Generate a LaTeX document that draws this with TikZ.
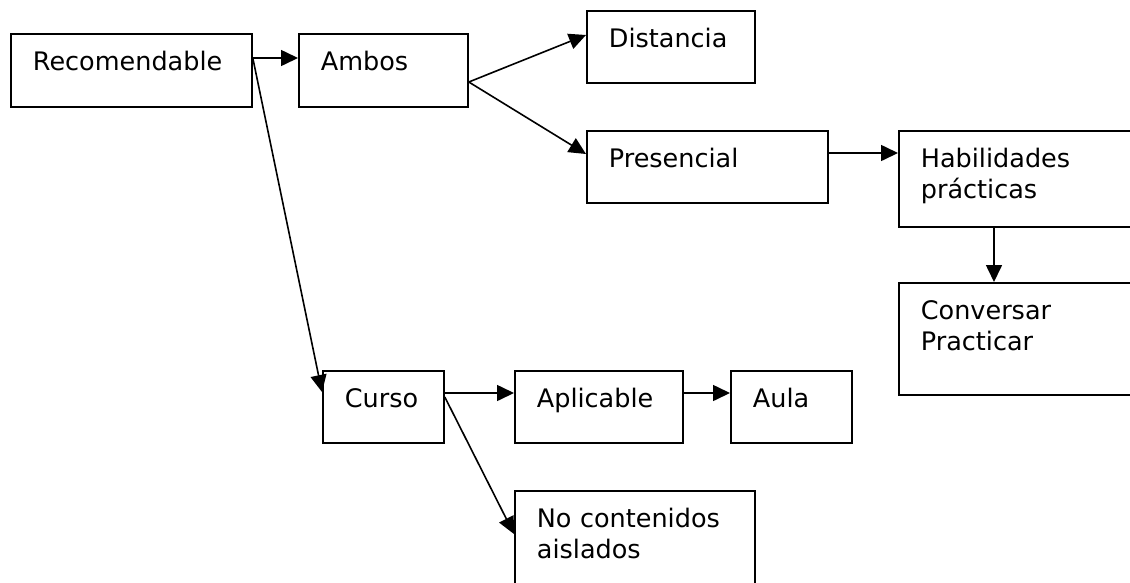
\documentclass[tikz,border=0pt]{standalone}
\usepackage{fontspec}
\setmainfont{DejaVu Sans}
\usetikzlibrary{arrows.meta}
\usetikzlibrary{positioning}

\tikzset{
  box/.style={draw, line width=1.8pt, anchor=north west, align=left,
    inner xsep=22pt, inner ysep=0pt, text height=37pt,
    font=\fontsize{25.5pt}{31pt}\selectfont},
  arr/.style={draw, line width=1.6pt, -{Triangle[length=17pt,width=16pt]}}
}

\begin{document}
\begin{tikzpicture}[x=1pt, y=-1pt]
        \clip (0,0) rectangle (1130,582);
        \node[box, text width=197pt, text depth=36pt] (rec) at (10,33) {Recomendable};
        \node[box, text width=125pt, text depth=36pt] (amb) at (298,33) {Ambos};
        \node[box, text width=124pt, text depth=35pt] (dis) at (586,10) {Distancia};
        \node[box, text width=197pt, text depth=35pt] (pre) at (586,130) {Presencial};
        \node[box, text width=256pt, text depth=59pt] (hab) at (898,130) {Habilidades\\prácticas};
        \node[box, text width=256pt, text depth=75pt] (con) at (898,282) {Conversar\\Practicar};
        \node[box, text width=77pt, text depth=35pt] (cur) at (322,370) {Curso};
        \node[box, text width=124pt, text depth=35pt] (apl) at (514,370) {Aplicable};
        \node[box, text width=77pt, text depth=35pt] (aul) at (730,370) {Aula};
        \node[box, text width=196pt, text depth=83pt] (noc) at (514,490) {No contenidos\\aislados};

        \draw
        ([yshift=-25pt]rec.north east) edge[arr] ([yshift=-25pt]amb.north west)
        ([yshift=-25pt]rec.north east) edge[arr] ([yshift=-22pt]cur.north west)
        ([yshift=-49pt]amb.north east) edge[arr] ([yshift=-25pt]dis.north west)
        ([yshift=-49pt]amb.north east) edge[arr] ([yshift=-24pt]pre.north west)
        ([yshift=-23pt]pre.north east) edge[arr] ([yshift=-23pt]hab.north west)
        ([xshift=96pt]hab.south west) edge[arr] ([xshift=96pt]con.north west)
        ([yshift=-23pt]cur.north east) edge[arr] ([yshift=-23pt]apl.north west)
        ([yshift=-23pt]apl.north east) edge[arr] ([yshift=-23pt]aul.north west)
        ([yshift=-27pt]cur.north east) edge[arr] ([yshift=-44pt]noc.north west);
      \end{tikzpicture}
\end{document}
